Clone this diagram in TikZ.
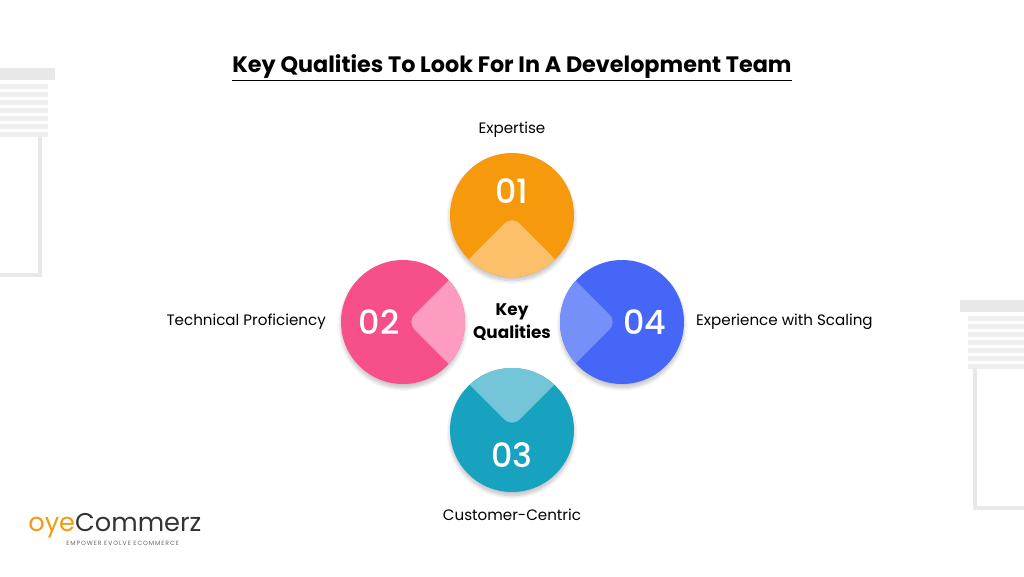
\documentclass[tikz,border=0pt]{standalone}
\usepackage{fontspec}
\setmainfont{Poppins}
\newfontfamily\numfont{Poppins Medium}
\usetikzlibrary{shadows.blur}
\definecolor{orangeA}{HTML}{F7990C}
\definecolor{orangeB}{HTML}{FDC06A}
\definecolor{pinkA}{HTML}{F74F8A}
\definecolor{pinkB}{HTML}{FD9BC0}
\definecolor{blueA}{HTML}{4566F7}
\definecolor{blueB}{HTML}{7590F9}
\definecolor{tealA}{HTML}{17A2C0}
\definecolor{tealB}{HTML}{74C5D7}
\definecolor{blind}{HTML}{E8E8E8}
\begin{document}
\begin{tikzpicture}[
    x=0.02cm, y=-0.02cm,
    numtext/.style={text=white, font=\numfont\fontsize{19}{19}\selectfont},
    labeltext/.style={font=\fontsize{8.6}{11}\selectfont},
    disc/.style={circle, minimum size=2.48cm, inner sep=0pt, blur shadow={shadow blur steps=8, shadow xshift=0pt, shadow yshift=-2pt, shadow opacity=25}}
  ]
  \useasboundingbox (0,0) rectangle (1024,576);

  %Blinds
  \fill[blind] (0,68) rectangle (55,80);
  \foreach \y in {84,92,...,132} \fill[blind!70] (0,\y) rectangle (48,\y+5);
  \draw[blind, line width=2pt] (40,136) -- (40,275) -- (0,275);
  \fill[blind] (960,300) rectangle (1024,312);
  \foreach \y in {316,324,...,364} \fill[blind!70] (968,\y) rectangle (1024,\y+5);
  \draw[blind, line width=2pt] (975,368) -- (975,508) -- (1024,508);

  %Title
  \node (title) at (512,68) {\fontsize{12.7}{14}\selectfont\bfseries\underline{Key Qualities To Look For In A Development Team}};

  %Circles
  \node[disc, fill=orangeA] (c1) at (512,215) {};
  \node[disc, fill=pinkA] (c2) at (403,322) {};
  \node[disc, fill=tealA] (c3) at (512,430) {};
  \node[disc, fill=blueA] (c4) at (622,322) {};

  %Wedges
  \begin{scope}
    \clip (c1.center) circle (62);
    \fill[orangeB, rounded corners=6pt] (512,216) -- (620,324) -- (404,324) -- cycle;
  \end{scope}
  \begin{scope}
    \clip (c2.center) circle (62);
    \fill[pinkB, rounded corners=6pt] (407,322) -- (515,214) -- (515,430) -- cycle;
  \end{scope}
  \begin{scope}
    \clip (c3.center) circle (62);
    \fill[tealB, rounded corners=6pt] (512,427) -- (404,319) -- (620,319) -- cycle;
  \end{scope}
  \begin{scope}
    \clip (c4.center) circle (62);
    \fill[blueB, rounded corners=6pt] (617,322) -- (509,214) -- (509,430) -- cycle;
  \end{scope}

  %Numbers
  \node[numtext] (n1) at (512,191) {01};
  \node[numtext] (n2) at (379,322) {02};
  \node[numtext] (n3) at (512,455) {03};
  \node[numtext] (n4) at (645,322) {04};

  %Labels
  \node[align=center, font=\fontsize{9.6}{13}\selectfont\bfseries] (key) at (512,322) {Key\\Qualities};
  \node[labeltext] (l1) at (512,130) {Expertise};
  \node[labeltext, left] (l2) at (332,322) {Technical Proficiency};
  \node[labeltext] (l3) at (512,515) {Customer-Centric};
  \node[labeltext, right] (l4) at (690,322) {Experience with Scaling};

  %Logo
  \node[anchor=west, inner sep=0pt] (logo) at (28,526) {\fontsize{14.6}{15}\selectfont\color{orangeA}oye\color{black!80}Commerz};
  \node[anchor=north west, inner sep=0pt, text=black!60] (tag) at (66,541) {\fontsize{3.5}{4}\selectfont\addfontfeature{LetterSpace=15}EMPOWER EVOLVE ECOMMERCE};
\end{tikzpicture}
\end{document}
